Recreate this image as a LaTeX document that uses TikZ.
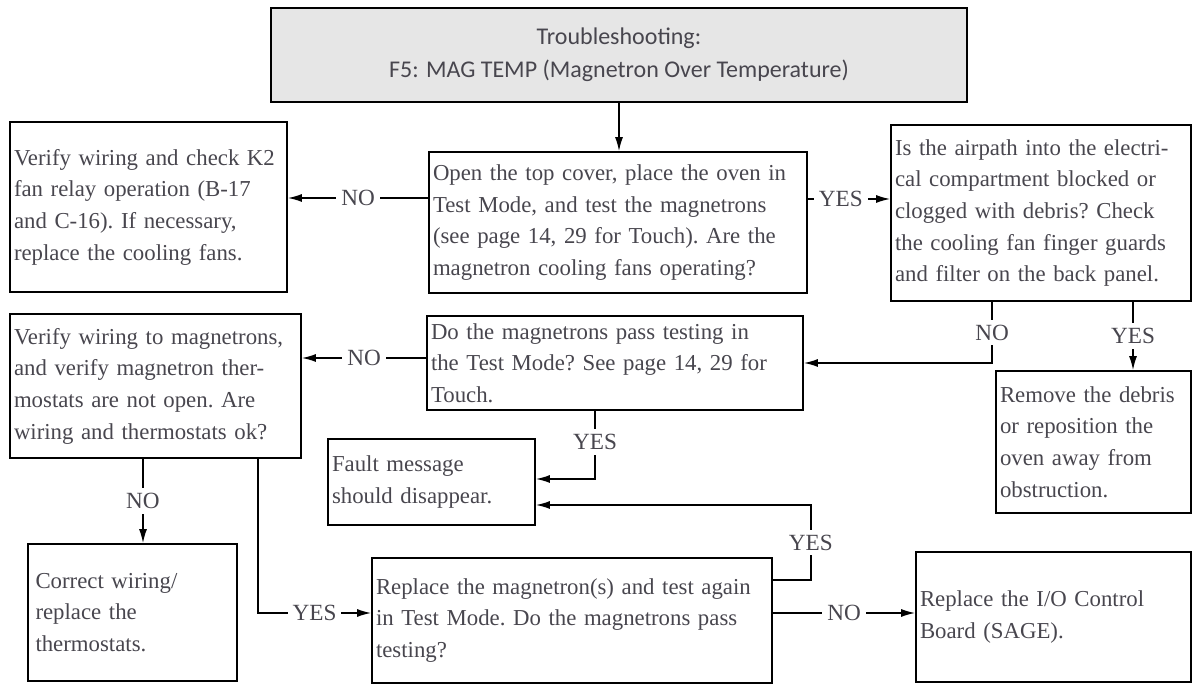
\documentclass[tikz,border=0pt]{standalone}
\usepackage{fontspec}
\setmainfont{Liberation Serif}
\newfontfamily\hdfont{Carlito}
\usetikzlibrary{arrows.meta}
\definecolor{txt}{RGB}{72,70,78}
\definecolor{hdfill}{RGB}{230,230,230}
\tikzset{
  bx/.style={draw=black, line width=0.9pt, inner sep=0pt, align=left, text=txt,
    font=\frenchspacing\fontsize{11.4}{15.85}\selectfont},
  hd/.style={draw=black, line width=0.9pt, fill=hdfill, inner sep=0pt, align=center, text=txt,
    font=\hdfont\fontsize{12}{16.5}\selectfont},
  arr/.style={draw=black, line width=0.7pt, -{Latex[length=7pt,width=4pt]}},
  lbl/.style={fill=white, inner sep=2.5pt, text=txt, font=\fontsize{11.6}{14}\selectfont}
}
\begin{document}
\begin{tikzpicture}[x=0.5pt,y=-0.5pt]
\useasboundingbox (0,0) rectangle (1193,688);

\node[hd, minimum width=348pt, minimum height=47pt] (top) at (619,55)
  {Troubleshooting:\\F5: MAG TEMP (Magnetron Over Temperature)};

\node[bx, minimum width=189pt, minimum height=70.5pt, text width=185pt] (B1) at (618,222.5)
  {Open the top cover, place the oven in\\Test Mode, and test the magnetrons\\(see page 14, 29 for Touch). Are the\\magnetron cooling fans operating?};

\node[bx, minimum width=138.5pt, minimum height=85pt, text width=134.5pt] (L1) at (148.5,207)
  {Verify wiring and check K2\\fan relay operation (B-17\\and C-16). If necessary,\\replace the cooling fans.};

\node[bx, minimum width=150pt, minimum height=88pt, text width=146pt] (R1) at (1041,213)
  {Is the airpath into the electri-\\cal compartment blocked or\\clogged with debris? Check\\the cooling fan finger guards\\and filter on the back panel.};

\node[bx, minimum width=188pt, minimum height=47pt, text width=184pt] (M2) at (615,363)
  {Do the magnetrons pass testing in\\the Test Mode? See page 14, 29 for\\Touch.};

\node[bx, minimum width=145.5pt, minimum height=72pt, text width=141.5pt] (L2) at (155.5,386)
  {Verify wiring to magnetrons,\\and verify magnetron ther-\\mostats are not open. Are\\wiring and thermostats ok?};

\node[bx, minimum width=97.5pt, minimum height=71pt, text width=93.5pt] (R2) at (1093.5,442)
  {Remove the debris\\or reposition the\\oven away from\\obstruction.};

\node[bx, minimum width=103.5pt, minimum height=43pt, text width=99.5pt] (F) at (431.5,482)
  {Fault message\\should disappear.};

\node[bx, minimum width=104.5pt, minimum height=68.5pt, text width=97pt] (C) at (132.5,612.5)
  {Correct wiring/\\replace the\\thermostats.};

\node[bx, minimum width=200pt, minimum height=62.5pt, text width=196pt] (RM) at (572,620.5)
  {Replace the magnetron(s) and test again\\in Test Mode. Do the magnetrons pass\\testing?};

\node[bx, minimum width=137.5pt, minimum height=65pt, text width=133.5pt] (IO) at (1053.5,617)
  {Replace the I/O Control\\Board (SAGE).};

% connectors
\draw[arr] (top.south) -- (top.south |- B1.north);
\draw[arr] ([yshift=12.25pt]B1.west) -- node[lbl]{NO} ([yshift=12.25pt]B1.west -| L1.east);
\draw[arr] ([yshift=11.75pt]B1.east) -- node[lbl,pos=0.4]{YES} ([yshift=11.75pt]B1.east -| R1.west);
\draw[arr] ([xshift=-24.5pt]R1.south) |- node[lbl,pos=0.25]{NO} (M2.east);
\draw[arr] ([xshift=46pt]R1.south) -- node[lbl]{YES} ([xshift=46pt]R1.south |- R2.north);
\draw[arr] ([yshift=2.5pt]M2.west) -- node[lbl]{NO} ([yshift=2.5pt]M2.west -| L2.east);
\draw[arr] ([xshift=-10pt]M2.south) |- node[lbl,pos=0.23]{YES} ([yshift=1.5pt]F.east);
\draw[arr] ([yshift=20.25pt]RM.east) -- ++(19pt,0) -- node[lbl]{YES} ++(0,37.5pt) -- ([yshift=-11.5pt]F.east);
\draw[arr] ([xshift=-6.25pt]L2.south) -- node[lbl]{NO} ([xshift=-6.25pt]L2.south |- C.north);
\draw[arr] ([xshift=51.25pt]L2.south) |- node[lbl,pos=0.75]{YES} ([yshift=3.75pt]RM.west);
\draw[arr] ([yshift=3.75pt]RM.east) -- node[lbl]{NO} ([yshift=3.75pt]RM.east -| IO.west);
\end{tikzpicture}
\end{document}
